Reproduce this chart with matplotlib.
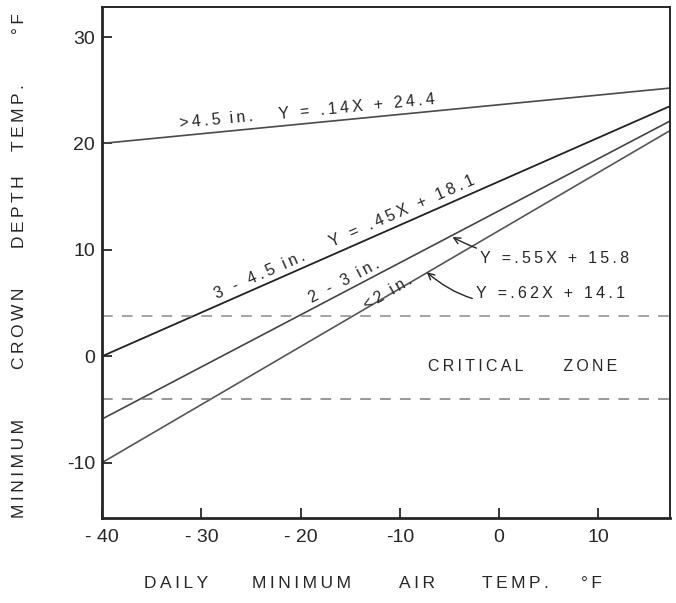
import matplotlib.pyplot as plt

plt.rcParams['font.family'] = ['Liberation Sans', 'DejaVu Sans']

# lines as drawn in the figure (end points)
x_ends = [-40, 17.2]
y_45 = [20.0, 25.2]      # >4.5 in.   Y = .14X + 24.4
y_3_45 = [0.0, 23.5]     # 3 - 4.5 in. Y = .45X + 18.1
y_2_3 = [-5.9, 22.1]     # 2 - 3 in.   Y = .55X + 15.8
y_lt2 = [-10.0, 21.2]    # <2 in.      Y = .62X + 14.1

zone_top = 3.8
zone_bottom = -4.0

x_ticks = [-40, -30, -20, -10, 0, 10]
x_tick_labels = ['- 40', '- 30', '- 20', '-10', '0', '10']
y_ticks = [-10, 0, 10, 20, 30]
y_tick_labels = ['-10', '0', '10', '20', '30']

x_label_words = ['DAILY', 'MINIMUM', 'AIR', 'TEMP.', '\u00b0F']
x_label_pos = [176, 302, 417, 515, 591]
y_label_words = ['MINIMUM', 'CROWN', 'DEPTH', 'TEMP.', '\u00b0F']
y_label_pos = [468, 328, 212, 118, 24]


def spaced(s):
    # the lettering in the original is widely spaced
    return '\u2009'.join(s)


fig = plt.figure(figsize=(6.76, 6.03), dpi=100)
ax = fig.add_axes([0.151, 0.141, 0.840, 0.847])

ink = '#262626'
ax.plot(x_ends, y_45, color='#4a4a4a', lw=1.2)
ax.plot(x_ends, y_3_45, color='#222222', lw=1.3)
ax.plot(x_ends, y_2_3, color='#444444', lw=1.2)
ax.plot(x_ends, y_lt2, color='#555555', lw=1.2)

ax.axhline(zone_top, color='#8a8a8a', lw=1.1, ls=(0, (7, 6)))
ax.axhline(zone_bottom, color='#7a7a7a', lw=1.1, ls=(0, (7, 6)))

ax.set_xlim(-40, 17.2)
ax.set_ylim(-15.2, 32.8)
ax.set_xticks(x_ticks, x_tick_labels)
ax.set_yticks(y_ticks, y_tick_labels)
ax.tick_params(direction='in', length=7, width=1.3, labelsize=14,
               colors=ink)
ax.tick_params(axis='y', pad=5)
ax.tick_params(axis='x', pad=8)
for s in ['left', 'bottom']:
    ax.spines[s].set_linewidth(2.0)
for s in ['top', 'right']:
    ax.spines[s].set_linewidth(1.4)
for s in ax.spines.values():
    s.set_color(ink)

fs = 11.5
ax.text(-28.5, 22.25, spaced('>4.5') + '  ' + spaced('in.'), fontsize=fs,
        color=ink, rotation=5.5, ha='center', va='center')
ax.text(-14.3, 23.4, spaced('Y = .14X + 24.4'), fontsize=fs, color=ink,
        rotation=5.5, ha='center', va='center')
ax.text(-24.1, 7.6, spaced('3 - 4.5') + '  ' + spaced('in.'), fontsize=fs,
        color=ink, rotation=23.7, ha='center', va='center')
ax.text(-9.75, 13.6, spaced('Y = .45X + 18.1'), fontsize=fs, color=ink,
        rotation=23.7, ha='center', va='center')
ax.text(-15.6, 7.1, spaced('2 - 3') + '  ' + spaced('in.'), fontsize=fs,
        color=ink, rotation=27.6, ha='center', va='center')
ax.text(-11.2, 6.0, spaced('<2') + '  ' + spaced('in.'), fontsize=fs,
        color=ink, rotation=30.2, ha='center', va='center')

ax.annotate(spaced('Y =.55X + 15.8'), xy=(-4.7, 11.2), xytext=(-1.9, 9.15),
            fontsize=fs, color=ink, ha='left', va='center',
            arrowprops=dict(arrowstyle='->', color=ink, lw=1.0,
                            shrinkA=1, shrinkB=0,
                            connectionstyle='arc3,rad=-0.15'))
ax.annotate(spaced('Y =.62X + 14.1'), xy=(-7.3, 7.9), xytext=(-2.3, 5.85),
            fontsize=fs, color=ink, ha='left', va='center',
            arrowprops=dict(arrowstyle='->', color=ink, lw=1.0,
                            shrinkA=1, shrinkB=0,
                            connectionstyle='arc3,rad=-0.3'))

ax.text(2.4, -1.0, spaced('CRITICAL') + '         ' + spaced('ZONE'),
        fontsize=fs, color=ink, ha='center', va='center')

W, H = 676, 603
for w, px in zip(x_label_words, x_label_pos):
    fig.text(px / W, 1 - 584 / H, spaced(w), fontsize=12.5, color=ink,
             ha='center', va='center')
for w, py in zip(y_label_words, y_label_pos):
    fig.text(20 / W, 1 - py / H, spaced(w), fontsize=12.5, color=ink,
             ha='center', va='center', rotation=90)

fig.savefig('out.png', dpi=100)
